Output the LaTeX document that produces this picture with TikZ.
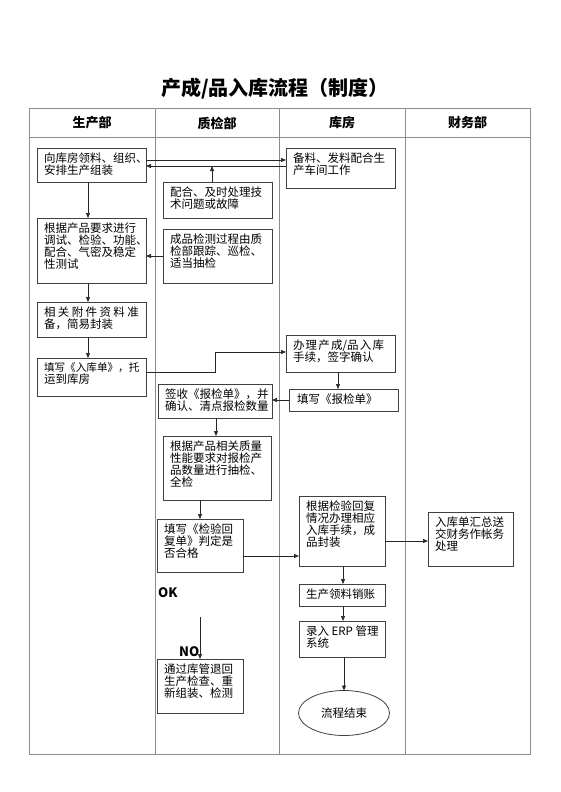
\documentclass[tikz,border=0pt]{standalone}
\usepackage{fontspec}
\setmainfont{Noto Sans CJK SC}
\usetikzlibrary{arrows.meta,shapes.geometric,calc}
\newcommand{\procbox}[6]{%
  \node[boxst, minimum width=#4pt, minimum height=#5pt] (#1) at (#2,#3) {};
  \node[txt] (#1t) at ([xshift=7pt,yshift=-5pt]#1.north west) {#6};}
\newcommand{\gapx}{\hspace{2.4pt}}
\newcommand{\gapy}{\hspace{1.2pt}}
\begin{document}
\begin{tikzpicture}[x=1pt,y=-1pt,
  lane/.style={draw=black!45, line width=0.8pt},
  boxst/.style={draw=black!75, line width=0.8pt, inner sep=0pt, outer sep=0pt},
  txt/.style={inner sep=0pt, outer sep=0pt, align=left, anchor=north west, font=\fontsize{11.5}{11.8}\selectfont},
  arr/.style={draw=black!85, line width=0.7pt, -{Triangle[length=5pt,width=4pt]}},
  hdr/.style={font=\bfseries\fontsize{13}{13}\selectfont},
  lbl/.style={font=\bfseries\fontsize{13}{13}\selectfont, inner sep=0pt, anchor=west},
]
\useasboundingbox (0,0) rectangle (560,792);
% title
\node[font=\bfseries\fontsize{20}{20}\selectfont] (title) at (275,89) {产成/品入库流程（制度）};
% table
\draw[lane] (29,108) rectangle (530,754);
\draw[lane] (29,137) -- (530,137);
\draw[lane] (155,108) -- (155,754);
\draw[lane] (279,108) -- (279,754);
\draw[lane] (405,108) -- (405,754);
\node[hdr] (h1) at (92,123) {生产部};
\node[hdr] (h2) at (217,123) {质检部};
\node[hdr] (h3) at (342,123) {库房};
\node[hdr] (h4) at (467.5,123) {财务部};
% boxes
\procbox{A}{91.5}{165}{109}{34}{向库房领料、组织、\\安排生产组装}
\procbox{B}{217.5}{200}{109}{36}{配合、及时处理技\\术问题或故障}
\procbox{C}{91.5}{250.5}{109}{65}{根据产品要求进行\\调试、检验、功能、\\配合、气密及稳定\\性测试}
\procbox{D}{217.5}{256}{109}{54}{成品检测过程由质\\检部跟踪、巡检、\\适当抽检}
\procbox{E}{340.5}{168}{109}{40}{备料、发料配合生\\产车间工作}
\procbox{F}{91.5}{319.5}{109}{35}{相\gapx 关\gapx 附\gapx 件\gapx 资\gapx 料\gapx 准\\备，简易封装}
\procbox{G}{91.5}{377}{109}{38}{\fontsize{10.6}{11.8}\selectfont 填写《入库单》，托\\运到库房}
\procbox{H}{340.5}{353.5}{109}{37}{办\gapy 理\gapy 产\gapy 成/品\gapy 入\gapy 库\\手续，签字确认}
\procbox{K}{343.5}{400}{109}{22}{\hspace{1pt}填写《报检单》}
\procbox{I}{215}{401}{114}{34}{签收《报检单》，并\\确认、清点报检数量}
\procbox{J}{217}{468}{108}{64}{根据产品相关质量\\性能要求对报检产\\品数量进行抽检、\\全检}
\procbox{L}{200}{545.5}{86}{53}{填写《检验回\\复单》判定是\\否合格}
\procbox{M}{342}{531}{86}{70}{根据检验回复\\情况办理相应\\入库手续，成\\品封装}
\procbox{N}{470.5}{539}{85}{54}{入库单汇总送\\交财务作帐务\\处理}
\procbox{P}{342}{595}{86}{22}{生产领料销账}
\procbox{Q}{342}{639}{86}{36}{录入 ERP 管理\\系统}
\procbox{S}{200}{686}{86}{54}{通过库管退回\\生产检查、重\\新组装、检测}
\node[ellipse, draw=black!75, line width=0.8pt, minimum width=91pt, minimum height=45pt, inner sep=0pt, outer sep=0pt, font=\fontsize{11.5}{11.8}\selectfont] (R) at (344,713) {流程结束};
% labels
\node[lbl] (ok) at (158,593) {OK};
\node[lbl] (no) at (179,652) {NO};
% connectors
\draw[arr] (A.east |- 0,160) -- (E.west |- 0,160);
\draw[arr] (E.west |- 0,166) -- (A.east |- 0,166);
\coordinate (jB) at (212,166);
\draw[arr] (B.north -| jB) -- (jB);
\draw[arr] (A.south -| 88,0) -- (C.north -| 88,0);
\draw[arr] (D.west) -- (C.east |- D.west);
\draw[arr] (C.south -| 88,0) -- (F.north -| 88,0);
\draw[arr] (F.south -| 88,0) -- (G.north -| 88,0);
\draw[arr] (G.east |- 0,372) -- (215,372) -- (215,352) -- (H.west |- 0,352);
\draw[arr] (H.south -| 338,0) -- (K.north -| 338,0);
\draw[arr] (K.west) -- (I.east |- K.west);
\draw[arr] (I.south -| 216,0) -- (J.north -| 216,0);
\draw[arr] (J.south -| 200,0) -- (L.north);
\draw[arr] (L.east |- 0,556) -- (M.west |- 0,556);
\draw[arr] (M.east |- 0,541) -- (N.west |- 0,541);
\draw[arr] (M.south -| 343,0) -- (P.north -| 343,0);
\draw[arr] (P.south -| 343,0) -- (Q.north -| 343,0);
\draw[arr] (Q.south -| 344,0) -- (R.north);
\coordinate (noS) at (200,617);
\draw[arr] (noS) -- (S.north);
\end{tikzpicture}
\end{document}
